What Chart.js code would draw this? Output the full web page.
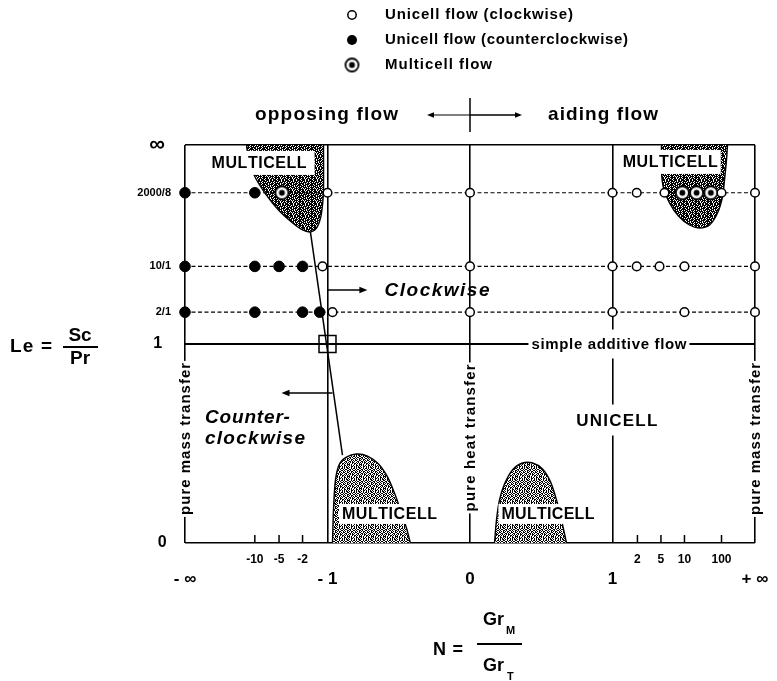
<!DOCTYPE html>
<html>
<head>
<meta charset="utf-8">
<title>Flow regimes in the N – Le plane</title>
<script src="https://cdn.jsdelivr.net/npm/chart.js@4.4.1/dist/chart.umd.min.js"></script>
<style>
  html, body { margin: 0; padding: 0; background: #fff; }
  canvas { display: block; }
</style>
</head>
<body>
<canvas id="chart" width="777" height="681"></canvas>
<script>
// Buoyancy ratio N = GrM/GrT on a compressed axis: -2 / +2 stand for -∞ / +∞
const nMajorTicks = [-2, -1, 0, 1, 2];
const nMajorLabels = ['- ∞', '- 1', '0', '1', '+ ∞'];
const nMinorTicks = [-1.51, -1.34, -1.175, 1.175, 1.34, 1.505, 1.765];
const nMinorLabels = ['-10', '-5', '-2', '2', '5', '10', '100'];

// Lewis number Le = Sc/Pr on a compressed axis: 2 stands for ∞
const leTicks = [0, 1, 1.16, 1.39, 1.76, 2];
const leLabels = ['0', '1', '2/1', '10/1', '2000/8', '∞'];
const leRows = [1.16, 1.39, 1.76];          // rows 2/1, 10/1, 2000/8

// computed cases: N position of each run on its Le row
const clockwiseRow2 = [-0.965, 0, 1, 1.505, 2];
const clockwiseRow10 = [-1.035, 0, 1, 1.17, 1.33, 1.505, 2];
const clockwiseRow2000 = [-1, 0, 1, 1.17, 1.365, 1.765, 2];
const counterRow2 = [-2, -1.51, -1.175, -1.055];
const counterRow10 = [-2, -1.51, -1.34, -1.175];
const counterRow2000 = [-2, -1.51];
const multicellRow2000 = [-1.32, 1.49, 1.59, 1.69];

// neutral point (N = -1, Le = 1) and the clockwise / counterclockwise boundary
const neutralN = [-1];
const neutralLe = [1];
const boundaryN = [-1.12, -0.895];
const boundaryLe = [1.563, 0.442];

// multicell regions, boundary as [N, Le] pairs
const regionOpposingHighLe = [[-1.568, 2], [-1.554, 1.925], [-1.512, 1.844], [-1.435, 1.754], [-1.344, 1.673],
  [-1.253, 1.613], [-1.175, 1.573], [-1.119, 1.563], [-1.077, 1.583], [-1.049, 1.633], [-1.035, 1.698],
  [-1.028, 1.774], [-1.028, 2]];
const regionAidingHighLe = [[1.344, 2], [1.344, 1.864], [1.358, 1.784], [1.4, 1.709], [1.463, 1.643],
  [1.54, 1.598], [1.611, 1.583], [1.681, 1.598], [1.737, 1.658], [1.772, 1.739], [1.786, 1.824],
  [1.8, 1.925], [1.807, 2]];
const regionOpposingLowLe = [[-0.965, 0], [-0.958, 0.166], [-0.944, 0.317], [-0.916, 0.397], [-0.867, 0.432],
  [-0.796, 0.447], [-0.719, 0.437], [-0.642, 0.397], [-0.579, 0.332], [-0.53, 0.251], [-0.488, 0.166],
  [-0.446, 0.075], [-0.418, 0]];
const regionAidingLowLe = [[0.172, 0], [0.186, 0.116], [0.207, 0.216], [0.242, 0.296], [0.298, 0.367],
  [0.368, 0.402], [0.439, 0.402], [0.509, 0.372], [0.565, 0.307], [0.607, 0.216], [0.642, 0.116],
  [0.677, 0]];

const FONT = "'Liberation Sans', Arial, Helvetica, sans-serif";
const canvas = document.getElementById('chart');
const ctx = canvas.getContext('2d');

// grainy fills for the multicell regions
function stipple(rows) {
  const t = document.createElement('canvas');
  t.width = rows[0].length; t.height = rows.length;
  const g = t.getContext('2d');
  g.fillStyle = '#fff'; g.fillRect(0, 0, t.width, t.height);
  g.fillStyle = '#000';
  rows.forEach((r, y) => [...r].forEach((c, x) => { if (c === '#') g.fillRect(x, y, 1, 1); }));
  return ctx.createPattern(t, 'repeat');
}
const darkStipple = stipple([
  '#.###.##.###', '###.#.####.#', '.#.####.#.##', '####.#.###.#',
  '#.##.####.##', '##.###.#.###', '.###.#.###.#', '##.####.#.##',
  '#.#.#.####.#', '####.##.#.##', '#.##.#.###.#', '.####.##.###']);
const midStipple = stipple([
  '#..#.##.#..#', '.##.#..#.##.', '#.#..##.#..#', '.#.##..#.#.#',
  '#..#.#.##..#', '.##.#.#..##.', '#.#.##..#.#.', '.#..#.##.#.#',
  '##.#..#.#..#', '.#.#.#..##.#', '#..##.#.#.#.', '.#.#..#.#.##']);

// multicell symbol: ring with a centre dot
function ringSymbol(r) {
  const c = document.createElement('canvas');
  const s = Math.ceil(2 * r + 4);
  c.width = c.height = s;
  const g = c.getContext('2d');
  const m = s / 2;
  g.beginPath(); g.arc(m, m, r, 0, Math.PI * 2);
  g.fillStyle = '#fff'; g.fill();
  g.lineWidth = 1.8; g.strokeStyle = '#000'; g.stroke();
  g.beginPath(); g.arc(m, m, r * 0.45, 0, Math.PI * 2);
  g.fillStyle = '#000'; g.fill();
  return c;
}
const ringImg = ringSymbol(6.5);

const onRow = (ns, le) => ns.map(n => ({ x: n, y: le }));
const asPoints = pairs => pairs.map(([n, le]) => ({ x: n, y: le }));

const clockwise = [...onRow(clockwiseRow2, leRows[0]), ...onRow(clockwiseRow10, leRows[1]), ...onRow(clockwiseRow2000, leRows[2])];
const counter = [...onRow(counterRow2, leRows[0]), ...onRow(counterRow10, leRows[1]), ...onRow(counterRow2000, leRows[2])];
const multicell = onRow(multicellRow2000, leRows[2]);

const regionStyle = (data, fill, pattern) => ({
  label: 'multicell region', data, fill, backgroundColor: pattern,
  borderColor: '#000', borderWidth: 1.4, pointRadius: 0, tension: 0.3, order: 10
});
const rowLine = le => ({
  label: 'Le row', data: [{ x: -2, y: le }, { x: 2, y: le }], borderColor: '#000',
  borderWidth: 1.2, borderDash: [4, 2.5], pointRadius: 0, fill: false, order: 6
});

// text placed in the plane (axis units); width = drawn width in px
const planeNotes = [
  { text: 'MULTICELL', n: -1.48, le: 1.91, width: 95, font: 'bold 16px', pad: [8, 4] },
  { text: 'MULTICELL', n: 1.405, le: 1.915, width: 95, font: 'bold 16px', pad: [3, 4] },
  { text: 'MULTICELL', n: -0.565, le: 0.146, width: 95, font: 'bold 16px', pad: [3, 2] },
  { text: 'MULTICELL', n: 0.547, le: 0.146, width: 93, font: 'bold 16px', pad: [3, 2] },
  { text: 'UNICELL', n: 1.03, le: 0.618, width: 81, font: 'bold 17px', pad: [4, 7] },
  { text: 'simple additive flow', n: 0.975, le: 1, width: 155, font: 'bold 15px', pad: [3, 7] },
  { text: 'pure mass transfer', n: -2, le: 0.523, width: 152, font: 'bold 15px', pad: [2, 1], rotate: true },
  { text: 'pure heat transfer', n: 0, le: 0.528, width: 147, font: 'bold 15px', pad: [2, 1], rotate: true },
  { text: 'pure mass transfer', n: 2, le: 0.523, width: 152, font: 'bold 15px', pad: [2, 1], rotate: true },
  { text: 'Clockwise', n: -0.6, le: 1.271, width: 105, font: 'italic bold 19px', align: 'left' },
  { text: 'Counter-', n: -1.86, le: 0.633, width: 85, font: 'italic bold 19px', align: 'left' },
  { text: 'clockwise', n: -1.86, le: 0.528, width: 100, font: 'italic bold 19px', align: 'left' }
];
const planeArrows = [
  { from: [-1, 1.271], to: [-0.72, 1.271] },
  { from: [-0.965, 0.754], to: [-1.323, 0.754] }
];

// draws text spread to a given width, starting at x
function spreadText(g, str, x, y, width) {
  const chars = [...str];
  const ws = chars.map(ch => g.measureText(ch).width);
  const natural = ws.reduce((a, b) => a + b, 0);
  const gap = chars.length > 1 && width ? (width - natural) / (chars.length - 1) : 0;
  let cx = x;
  chars.forEach((ch, i) => { g.fillText(ch, cx, y); cx += ws[i] + gap; });
}

function arrow(g, x1, y1, x2, y2, lw, head) {
  const a = Math.atan2(y2 - y1, x2 - x1);
  g.save();
  g.strokeStyle = '#000'; g.fillStyle = '#000'; g.lineWidth = lw;
  g.beginPath(); g.moveTo(x1, y1);
  g.lineTo(x2 - Math.cos(a) * head * 0.8, y2 - Math.sin(a) * head * 0.8); g.stroke();
  g.beginPath(); g.moveTo(x2, y2);
  g.lineTo(x2 - head * Math.cos(a) + head * 0.4 * Math.sin(a), y2 - head * Math.sin(a) - head * 0.4 * Math.cos(a));
  g.lineTo(x2 - head * Math.cos(a) - head * 0.4 * Math.sin(a), y2 - head * Math.sin(a) + head * 0.4 * Math.cos(a));
  g.closePath(); g.fill();
  g.restore();
}

const annotate = {
  id: 'annotate',
  afterDraw(chart) {
    const g = chart.ctx;
    const xs = chart.scales.x, ys = chart.scales.y;
    const px = n => xs.getPixelForValue(n), py = le => ys.getPixelForValue(le);
    const bottom = chart.chartArea.bottom;
    g.save();
    g.fillStyle = '#000';
    g.strokeStyle = '#000';

    // minor N ticks rising from the bottom edge
    g.lineWidth = 1.5;
    nMinorTicks.forEach(n => {
      g.beginPath(); g.moveTo(px(n), bottom - 8); g.lineTo(px(n), bottom); g.stroke();
    });

    planeArrows.forEach(a => arrow(g, px(a.from[0]), py(a.from[1]), px(a.to[0]), py(a.to[1]), 1.5, 8));

    // labels inside the plane, each on a white ground
    g.textBaseline = 'middle';
    planeNotes.forEach(nt => {
      g.font = `${nt.font} ${FONT}`;
      const size = parseFloat(nt.font.match(/(\d+)px/)[1]);
      const x = px(nt.n), y = py(nt.le);
      g.save();
      g.translate(x, y);
      if (nt.rotate) g.rotate(-Math.PI / 2);
      const left = nt.align === 'left' ? 0 : -nt.width / 2;
      if (nt.pad) {
        g.fillStyle = '#fff';
        g.fillRect(left - nt.pad[0], -size / 2 - nt.pad[1], nt.width + 2 * nt.pad[0], size + 2 * nt.pad[1]);
      }
      g.fillStyle = '#000';
      spreadText(g, nt.text, left, 1, nt.width);
      g.restore();
    });

    // opposing / aiding header above the plane
    const hy = 115;
    g.fillStyle = '#000';
    g.font = `bold 19px ${FONT}`;
    spreadText(g, 'opposing flow', 255, hy, 143);
    spreadText(g, 'aiding flow', 548, hy, 110);
    g.lineWidth = 1.5;
    g.beginPath(); g.moveTo(px(0), 98); g.lineTo(px(0), 132); g.stroke();
    arrow(g, px(0), hy, 427, hy, 1, 7);
    arrow(g, px(0), hy, 522, hy, 1.5, 7);

    // legend
    const ds = chart.data.datasets;
    const legendRows = [
      { y: 15, width: 188, draw: (x, y) => { g.beginPath(); g.arc(x, y, 4.2, 0, Math.PI * 2); g.fillStyle = '#fff'; g.fill(); g.lineWidth = 1.5; g.strokeStyle = '#000'; g.stroke(); } },
      { y: 40, width: 243, draw: (x, y) => { g.beginPath(); g.arc(x, y, 5, 0, Math.PI * 2); g.fillStyle = '#000'; g.fill(); } },
      { y: 65, width: 107, draw: (x, y) => { g.drawImage(ringImg, x - ringImg.width / 2, y - ringImg.height / 2); } }
    ];
    legendRows.forEach((r, i) => {
      r.draw(352, r.y);
      g.fillStyle = '#000';
      g.font = `bold 15px ${FONT}`;
      spreadText(g, ds[i].label, 385, r.y, r.width);
    });

    // axis titles: Le = Sc / Pr and N = GrM / GrT
    g.fillStyle = '#000';
    g.strokeStyle = '#000';
    g.font = `bold 19px ${FONT}`;
    spreadText(g, 'Le =', 10, 347, 42);
    g.lineWidth = 2;
    g.beginPath(); g.moveTo(63, 347); g.lineTo(98, 347); g.stroke();
    g.textAlign = 'center';
    g.fillText('Sc', 80, 336);
    g.fillText('Pr', 80, 359);
    g.textAlign = 'left';

    g.font = `bold 18px ${FONT}`;
    spreadText(g, 'N =', 433, 650, 30);
    g.beginPath(); g.moveTo(477, 644); g.lineTo(522, 644); g.stroke();
    g.fillText('Gr', 483, 620);
    g.fillText('Gr', 483, 666);
    g.font = `bold 11px ${FONT}`;
    g.fillText('M', 506, 631);
    g.fillText('T', 507, 677);
    g.restore();
  }
};

new Chart(ctx, {
  type: 'line',
  data: {
    datasets: [
      { label: 'Unicell flow (clockwise)', data: clockwise, showLine: false, pointRadius: 4.3,
        pointBorderWidth: 1.5, pointBackgroundColor: '#fff', pointBorderColor: '#000', order: 0, clip: false },
      { label: 'Unicell flow (counterclockwise)', data: counter, showLine: false, pointRadius: 5.3,
        pointBorderWidth: 1, pointBackgroundColor: '#000', pointBorderColor: '#000', order: 0, clip: false },
      { label: 'Multicell flow', data: multicell, showLine: false, pointStyle: ringImg, pointRadius: 6.5,
        order: 0, clip: false },
      { label: 'neutral point', data: neutralN.map((n, i) => ({ x: n, y: neutralLe[i] })), showLine: false,
        pointStyle: 'rect', pointRadius: 12, pointBorderWidth: 1.5, pointBorderColor: '#000',
        pointBackgroundColor: 'rgba(0,0,0,0)', order: 1, clip: false },
      { label: 'boundary', data: boundaryN.map((n, i) => ({ x: n, y: boundaryLe[i] })), borderColor: '#000',
        borderWidth: 1.5, pointRadius: 0, fill: false, order: 4 },
      rowLine(leRows[0]), rowLine(leRows[1]), rowLine(leRows[2]),
      regionStyle(asPoints(regionOpposingHighLe), 'end', darkStipple),
      regionStyle(asPoints(regionAidingHighLe), 'end', darkStipple),
      regionStyle(asPoints(regionOpposingLowLe), 'start', midStipple),
      regionStyle(asPoints(regionAidingLowLe), 'start', midStipple)
    ]
  },
  options: {
    responsive: false,
    animation: false,
    events: [],
    layout: { padding: { top: 145, right: 22, left: 0, bottom: 0 } },
    plugins: { legend: { display: false }, tooltip: { enabled: false } },
    scales: {
      x: {
        type: 'linear', min: -2, max: 2, position: 'bottom', weight: 2,
        afterBuildTicks: s => { s.ticks = nMajorTicks.map(v => ({ value: v })); },
        afterFit: s => { s.height = 116; },
        ticks: { callback: (v, i) => nMajorLabels[i], font: { family: FONT, size: 17, weight: 'bold' },
          color: '#000', padding: 4, autoSkip: false, maxRotation: 0, minRotation: 0 },
        grid: { color: '#000', lineWidth: 1.6, drawTicks: false },
        border: { display: false }
      },
      xMinor: {
        type: 'linear', min: -2, max: 2, position: 'bottom', weight: 1,
        afterBuildTicks: s => { s.ticks = nMinorTicks.map(v => ({ value: v })); },
        afterFit: s => { s.height = 22; },
        ticks: { callback: (v, i) => nMinorLabels[i], font: { family: FONT, size: 12, weight: 'bold' },
          color: '#000', padding: 9, autoSkip: false, maxRotation: 0, minRotation: 0 },
        grid: { display: false, drawTicks: false },
        border: { display: false }
      },
      y: {
        type: 'linear', min: 0, max: 2, position: 'left',
        afterBuildTicks: s => { s.ticks = leTicks.map(v => ({ value: v })); },
        afterFit: s => { s.width = 185; },
        ticks: {
          callback: (v, i) => ({ '∞': '∞ ', '1': '1  ', '0': '0 ' })[leLabels[i]] || leLabels[i],
          font: c => ({ family: FONT, weight: 'bold',
            size: c.tick && c.tick.value === 2 ? 22 : (c.tick && c.tick.value <= 1 ? 16 : 11) }),
          color: '#000', padding: 14, autoSkip: false
        },
        grid: {
          color: c => (c.tick && [0, 1, 2].includes(c.tick.value)) ? '#000' : 'rgba(0,0,0,0)',
          lineWidth: c => (c.tick && c.tick.value === 1) ? 2 : 1.6,
          drawTicks: false
        },
        border: { display: false }
      }
    }
  },
  plugins: [annotate]
});
</script>
</body>
</html>
